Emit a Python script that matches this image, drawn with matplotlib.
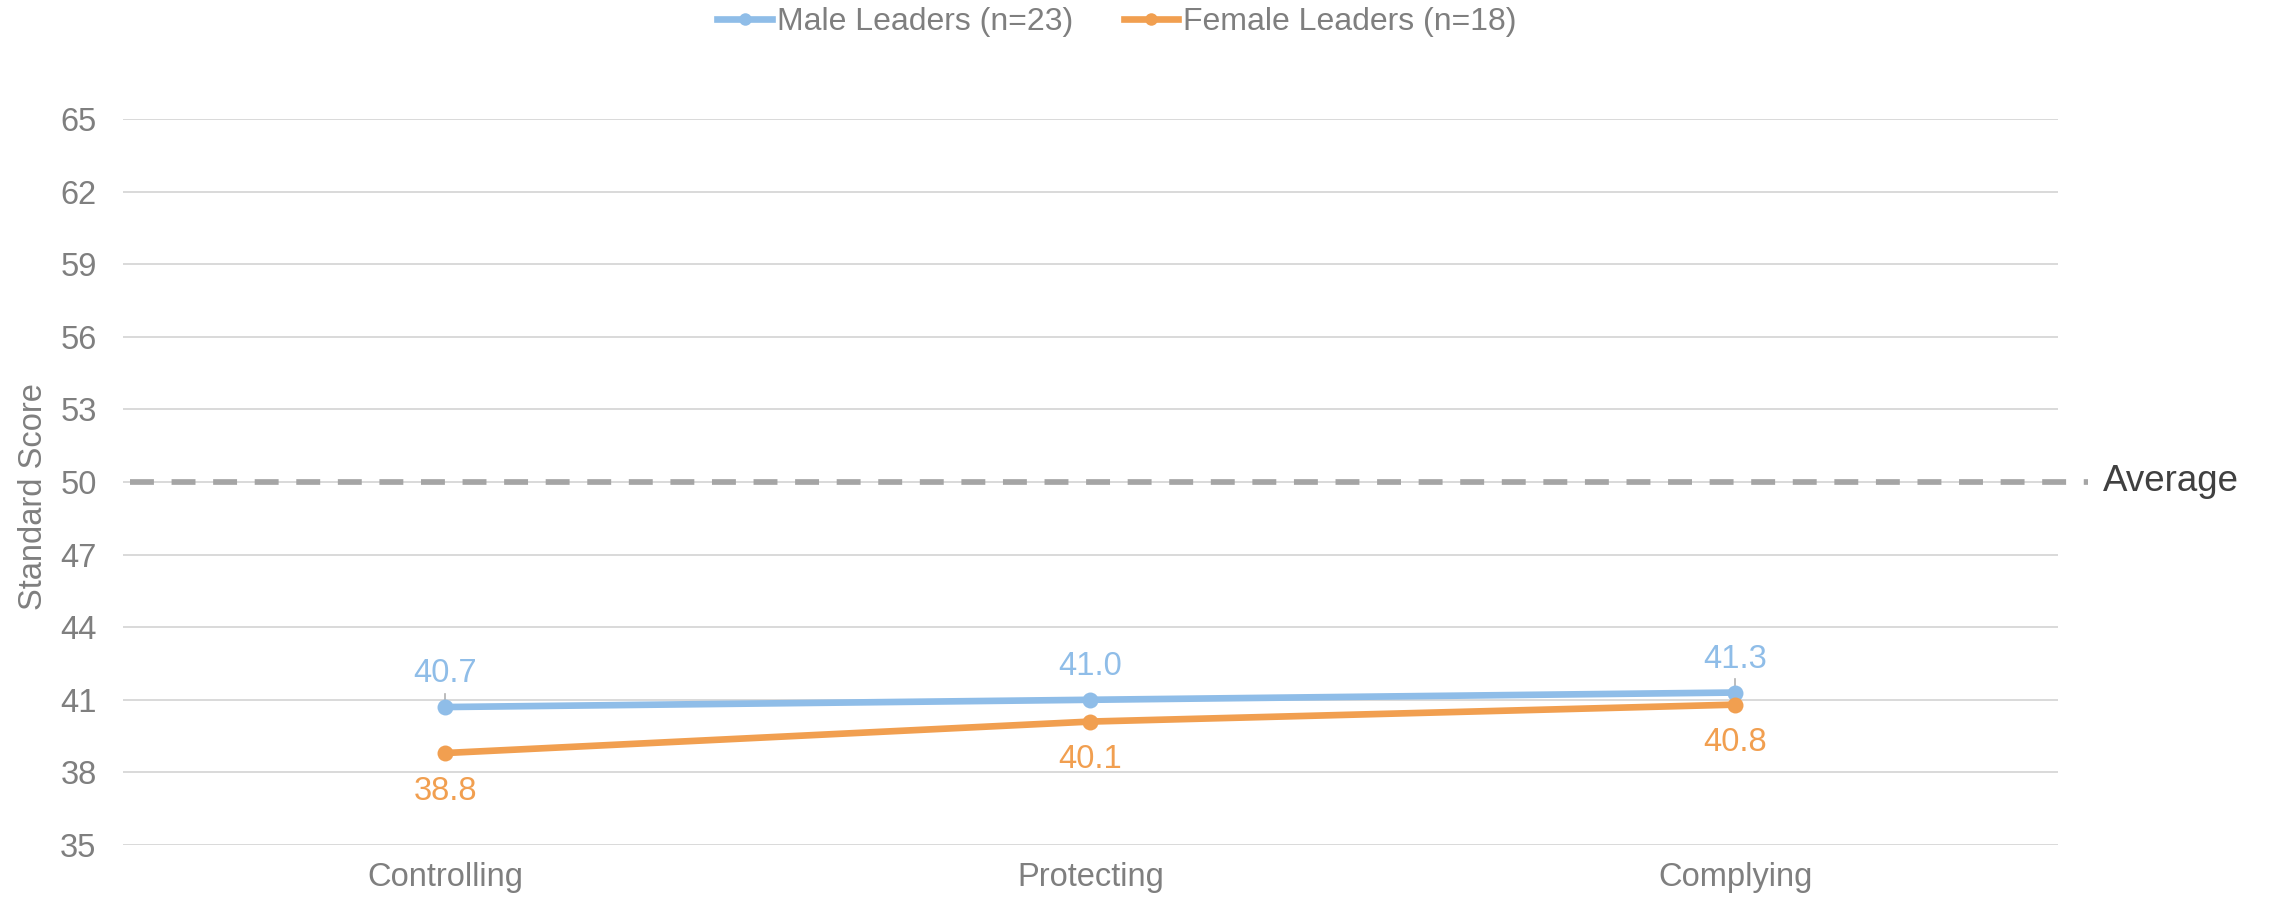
import matplotlib
matplotlib.use("Agg")
import matplotlib.pyplot as plt
from matplotlib.lines import Line2D

plt.rcParams['font.family'] = ['Liberation Sans', 'DejaVu Sans']

categories = ["Controlling", "Protecting", "Complying"]
male_scores = [40.7, 41.0, 41.3]
female_scores = [38.8, 40.1, 40.8]
male_label = "Male Leaders (n=23)"
female_label = "Female Leaders (n=18)"
average_score = 50
y_ticks = [35, 38, 41, 44, 47, 50, 53, 56, 59, 62, 65]

BLUE = "#8fbde8"
ORANGE = "#f19f50"
GRID = "#d9d9d9"
TEXT = "#7f7f7f"

fig = plt.figure(figsize=(22.72, 9.02), dpi=100)
ax = fig.add_axes([0.0541, 0.0632, 0.8517, 0.8049])

x = list(range(len(categories)))
ax.set_xlim(-0.5, len(categories) - 0.5)
ax.set_ylim(y_ticks[0], y_ticks[-1])
ax.set_yticks(y_ticks)
ax.set_xticks(x)
ax.set_xticklabels(categories)
ax.grid(axis='y', color=GRID, linewidth=1.4)
ax.set_axisbelow(True)
for s in ax.spines.values():
    s.set_visible(False)
ax.tick_params(axis='both', length=0, labelsize=23.5, labelcolor=TEXT)
ax.tick_params(axis='y', pad=19)
ax.tick_params(axis='x', pad=12)
ax.set_ylabel("Standard Score", fontsize=23.5, color=TEXT)
ax.yaxis.set_label_coords(-0.038, 0.48)

# Average reference line, extending slightly past the plot area
ax.plot([0.0036, 1.0155], [average_score, average_score],
        transform=ax.get_yaxis_transform(), color="#a5a5a5",
        linewidth=4.1, dashes=(4.2, 3.1), clip_on=False, zorder=2)
ax.text(1.0233, average_score, "Average", transform=ax.get_yaxis_transform(),
        fontsize=26.5, color="#404040", va='center', ha='left')

ax.plot(x, male_scores, color=BLUE, linewidth=4.8, marker='o',
        markersize=11.5, markeredgewidth=0, zorder=4, solid_capstyle='round')
ax.plot(x, female_scores, color=ORANGE, linewidth=4.8, marker='o',
        markersize=11.5, markeredgewidth=0, zorder=4, solid_capstyle='round')

for i, v in enumerate(male_scores):
    ax.annotate(f"{v:.1f}", (i, v), xytext=(0, 24), textcoords='offset points',
                ha='center', va='center', fontsize=23.5, color=BLUE)
    if i != 1:
        ax.plot([i, i], [v + 0.05, v + 0.55], color="#b0b0b0",
                linewidth=1.2, zorder=3)

for i, v in enumerate(female_scores):
    ax.annotate(f"{v:.1f}", (i, v), xytext=(0, -27.5), textcoords='offset points',
                ha='center', va='center', fontsize=23.5, color=ORANGE)

handles = [
    Line2D([], [], color=BLUE, linewidth=4.8, marker='o', markersize=9,
           markeredgewidth=0),
    Line2D([], [], color=ORANGE, linewidth=4.8, marker='o', markersize=9,
           markeredgewidth=0),
]
leg = fig.legend(handles, [male_label, female_label], loc='center',
                 bbox_to_anchor=(1117 / 2272, 1 - 22 / 902), ncol=2,
                 frameon=False, fontsize=23, handlelength=1.7,
                 handletextpad=0.15, columnspacing=1.6)
for t in leg.get_texts():
    t.set_color(TEXT)

fig.savefig("out.png", dpi=100)
